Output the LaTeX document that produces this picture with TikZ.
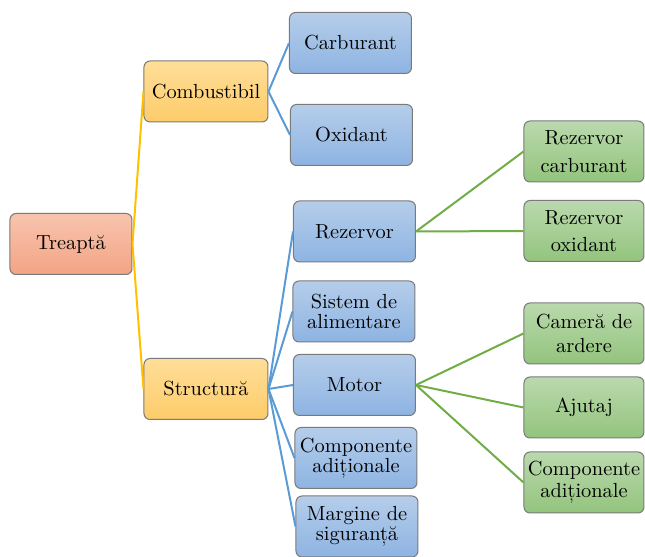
\documentclass[tikz,border=0pt]{standalone}
\usepackage{fontspec}

\definecolor{boxLine}{HTML}{7A7A7A}
\definecolor{rootTop}{HTML}{F8C4AE}
\definecolor{rootBot}{HTML}{F3A485}
\definecolor{orgTop}{HTML}{FFDE98}
\definecolor{orgBot}{HTML}{FDCC6A}
\definecolor{bluTop}{HTML}{B5CDEA}
\definecolor{bluBot}{HTML}{8EB4E2}
\definecolor{grnTop}{HTML}{BAD9AD}
\definecolor{grnBot}{HTML}{93C47D}
\definecolor{yelEdge}{HTML}{FFC000}
\definecolor{bluEdge}{HTML}{5B9BD5}
\definecolor{grnEdge}{HTML}{70AD47}

\tikzset{
	treeBox/.style={rectangle, rounded corners=3pt, draw=boxLine, line width=0.5pt, minimum width=61pt, minimum height=30.5pt, inner sep=1pt, align=center},
	rootBox/.style={treeBox, top color=rootTop, bottom color=rootBot, font=\fontsize{10.2}{12}\selectfont},
	orgBox/.style={treeBox, top color=orgTop, bottom color=orgBot, font=\fontsize{10.2}{12}\selectfont},
	bluBox/.style={treeBox, top color=bluTop, bottom color=bluBot, font=\fontsize{10.2}{9.8}\selectfont},
	grnBox/.style={treeBox, top color=grnTop, bottom color=grnBot, font=\fontsize{10.2}{12}\selectfont}
}

\begin{document}
\begin{tikzpicture}[x=0.5pt, y=-0.5pt]
		\useasboundingbox (0,0) rectangle (645,557);

		\node[rootBox](treaptaBox) at (71,244){Treaptă};

		\node[orgBox, minimum width=62pt](combBox) at (206,91.5){Combustibil};
		\node[orgBox, minimum width=62pt](structBox) at (206,389){Structură};

		\node[bluBox](carbBox) at (350.5,43){Carburant};
		\node[bluBox](oxidBox) at (351.5,135){Oxidant};
		\node[bluBox](rezBox) at (354.5,231.5){Rezervor};
		\node[bluBox](sistBox) at (354,311.5){Sistem de\\alimentare};
		\node[bluBox](motorBox) at (354.5,385){Motor};
		\node[bluBox](compBox) at (356,458){Componente\\adiționale};
		\node[bluBox](margBox) at (357,526.5){Margine de\\siguranță};

		\node[grnBox, font=\fontsize{10.2}{13.8}\selectfont, minimum width=60pt](rezCarbBox) at (584,151.5){Rezervor\\carburant};
		\node[grnBox, font=\fontsize{10.2}{13.8}\selectfont, minimum width=60pt](rezOxidBox) at (584,231){Rezervor\\oxidant};
		\node[grnBox, minimum width=60pt](camBox) at (584,333.5){Cameră de\\ardere};
		\node[grnBox, minimum width=60pt](ajutBox) at (584,407.5){Ajutaj};
		\node[grnBox, font=\fontsize{10.2}{11}\selectfont, minimum width=60pt](compMotBox) at (584,482.5){Componente\\adiționale};

		% draw root edges
		\draw[yelEdge, line width=1pt] (treaptaBox.east) -- (combBox.west);
		\draw[yelEdge, line width=1pt] (treaptaBox.east) -- (structBox.west);

		% draw fuel edges
		\draw[bluEdge, line width=1pt] (combBox.east) -- (carbBox.west);
		\draw[bluEdge, line width=1pt] (combBox.east) -- (oxidBox.west);

		% draw structure edges
		\draw[bluEdge, line width=1pt] (structBox.east) -- (rezBox.west);
		\draw[bluEdge, line width=1pt] (structBox.east) -- (sistBox.west);
		\draw[bluEdge, line width=1pt] (structBox.east) -- (motorBox.west);
		\draw[bluEdge, line width=1pt] (structBox.east) -- (compBox.west);
		\draw[bluEdge, line width=1pt] (structBox.east) -- (margBox.west);

		% draw tank edges
		\draw[grnEdge, line width=1pt] (rezBox.east) -- (rezCarbBox.west);
		\draw[grnEdge, line width=1pt] (rezBox.east) -- (rezOxidBox.west);

		% draw engine edges
		\draw[grnEdge, line width=1pt] (motorBox.east) -- (camBox.west);
		\draw[grnEdge, line width=1pt] (motorBox.east) -- (ajutBox.west);
		\draw[grnEdge, line width=1pt] (motorBox.east) -- (compMotBox.west);

	\end{tikzpicture}
\end{document}
